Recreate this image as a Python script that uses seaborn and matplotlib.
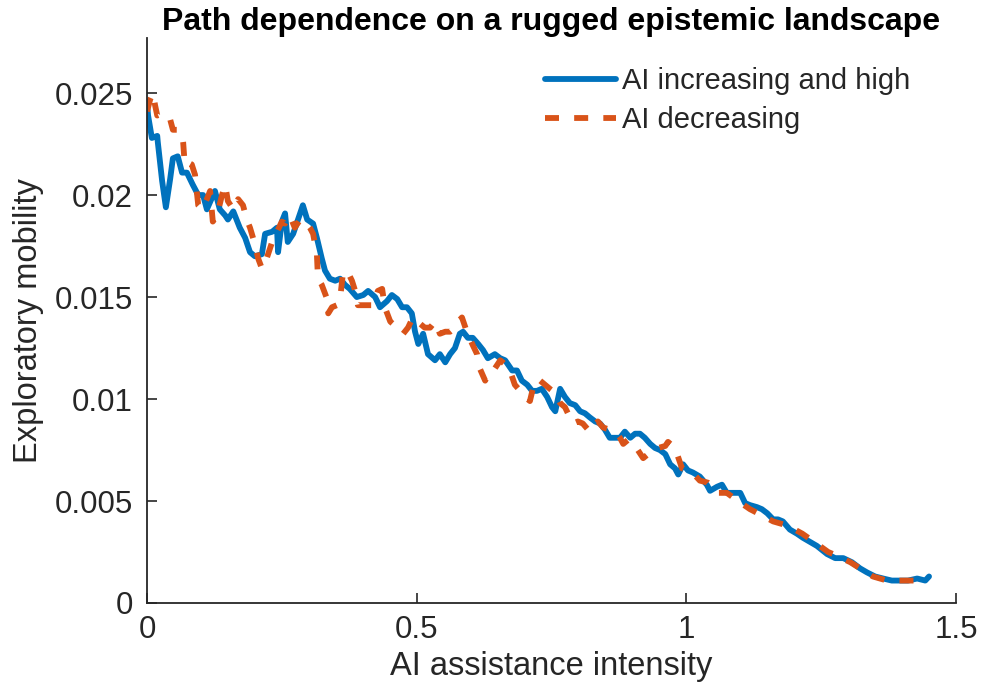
import matplotlib
matplotlib.use("Agg")
import matplotlib.pyplot as plt
import seaborn as sns
import pandas as pd

# values
inc_x = [0, .002, .009, .019, .020, .028, .035, .043, .048, .057, .065, .074, .085, .095,
         .104, .111, .126, .135, .145, .150, .160, .172, .182, .191, .200, .213, .219, .232,
         .241, .243, .250, .256, .261, .271, .280, .289, .297, .308, .315, .324, .330, .339,
         .349, .358, .367, .376, .389, .401, .410, .423, .432, .445, .454, .464, .473, .482,
         .491, .497, .503, .512, .521, .534, .543, .553, .562, .571, .580, .586, .595, .604,
         .614, .623, .632, .645, .655, .664, .677, .686, .695, .705, .714, .723, .732, .742,
         .751, .757, .766, .775, .784, .794, .803, .812, .821, .831, .840, .849, .858, .868,
         .877, .886, .896, .905, .914, .923, .933, .942, .951, .961, .970, .979, .985, .994,
         1.003, 1.012, 1.025, 1.038, 1.044, 1.057, 1.066, 1.075, 1.087, 1.100, 1.109, 1.118,
         1.131, 1.140, 1.150, 1.161, 1.170, 1.179, 1.192, 1.205, 1.216, 1.229, 1.242, 1.261,
         1.276, 1.291, 1.307, 1.322, 1.335, 1.350, 1.365, 1.381, 1.396, 1.411, 1.428, 1.443,
         1.450]
inc_y = [.0245, .0239, .0228, .0229, .0226, .0207, .0194, .0208, .0218, .0219, .0211, .0211,
         .0205, .0200, .0200, .0193, .0202, .0193, .0190, .0188, .0192, .0184, .0179, .0172,
         .0170, .0171, .0181, .0182, .0184, .0172, .0187, .0191, .0177, .0181, .0188, .0195,
         .0188, .0186, .0179, .0169, .0163, .0159, .0158, .0159, .0156, .0154, .0150, .0151,
         .0153, .0150, .0145, .0148, .0151, .0149, .0145, .0145, .0142, .0133, .0127, .0132,
         .0122, .0119, .0122, .0118, .0122, .0125, .0132, .0133, .0130, .0130, .0127, .0124,
         .0120, .0122, .0120, .0119, .0114, .0114, .0109, .0107, .0104, .0104, .0105, .0101,
         .0096, .0094, .0105, .0101, .0098, .0097, .0094, .0093, .0091, .0089, .0088, .0085,
         .0081, .0081, .0081, .0084, .0081, .0083, .0083, .0081, .0078, .0076, .0075, .0073,
         .0068, .0066, .0063, .0068, .0065, .0064, .0062, .0058, .0055, .0057, .0058, .0054,
         .0054, .0054, .0049, .0048, .0047, .0046, .0044, .0041, .0041, .0040, .0036, .0034,
         .0032, .0030, .0028, .0024, .0022, .0022, .0020, .0017, .0015, .0013, .0012, .0011,
         .0011, .0011, .0012, .0011, .0013]

dec_x = [0, .006, .011, .015, .019, .028, .037, .043, .048, .057, .065, .067, .070, .076,
         .083, .089, .095, .102, .111, .117, .122, .130, .139, .145, .150, .160, .169, .178,
         .185, .191, .200, .206, .213, .222, .232, .241, .250, .256, .265, .274, .284, .293,
         .302, .308, .315, .317, .324, .334, .336, .343, .352, .358, .363, .371, .380, .386,
         .391, .401, .410, .419, .428, .436, .441, .451, .464, .475, .484, .493, .506, .515,
         .525, .534, .543, .553, .562, .571, .577, .584, .593, .603, .612, .617, .627, .636,
         .645, .655, .664, .673, .682, .692, .701, .710, .719, .729, .738, .747, .757, .766,
         .775, .784, .790, .799, .808, .821, .831, .836, .846, .858, .868, .877, .883, .892,
         .901, .910, .920, .929, .938, .948, .961, .966, .979, .992, 1.001, 1.011, 1.025,
         1.040, 1.059, 1.075, 1.096, 1.118, 1.140, 1.161, 1.187, 1.215, 1.242, 1.263, 1.272,
         1.304, 1.322, 1.346, 1.372, 1.393, 1.420, 1.439, 1.448]
dec_y = [.0241, .0247, .0250, .0244, .0239, .0240, .0239, .0237, .0232, .0232, .0230, .0226,
         .0215, .0216, .0215, .0210, .0195, .0193, .0198, .0202, .0187, .0190, .0200, .0205,
         .0197, .0193, .0198, .0195, .0188, .0184, .0176, .0169, .0164, .0169, .0177, .0182,
         .0187, .0186, .0190, .0184, .0188, .0187, .0184, .0181, .0171, .0159, .0156, .0149,
         .0142, .0145, .0146, .0149, .0161, .0163, .0158, .0153, .0146, .0146, .0146, .0146,
         .0153, .0154, .0145, .0138, .0135, .0132, .0135, .0140, .0137, .0135, .0135, .0138,
         .0132, .0133, .0133, .0135, .0138, .0140, .0133, .0127, .0122, .0115, .0109, .0114,
         .0115, .0119, .0117, .0114, .0107, .0104, .0101, .0099, .0109, .0109, .0107, .0105,
         .0103, .0098, .0096, .0091, .0088, .0089, .0088, .0084, .0088, .0089, .0086, .0085,
         .0084, .0081, .0078, .0080, .0078, .0075, .0071, .0073, .0075, .0076, .0077, .0079,
         .0076, .0066, .0065, .0064, .0060, .0059, .0054, .0054, .0050, .0046, .0043, .0040,
         .0038, .0034, .0029, .0025, .0024, .0020, .0017, .0013, .0011, .0011, .0011, .0011,
         .0011]

x_ticks = [0, 0.5, 1, 1.5]
x_tick_labels = ["0", "0.5", "1", "1.5"]
y_ticks = [0, 0.005, 0.01, 0.015, 0.02, 0.025]
y_tick_labels = ["0", "0.005", "0.01", "0.015", "0.02", "0.025"]

sns.set_style("ticks")
plt.rcParams["font.family"] = ["Liberation Sans", "DejaVu Sans"]

BLUE = "#0072BD"
ORANGE = "#D95319"

df_inc = pd.DataFrame({"x": inc_x, "y": inc_y})
df_dec = pd.DataFrame({"x": dec_x, "y": dec_y})

fig = plt.figure(figsize=(9.82, 6.87), dpi=100)
ax = fig.add_axes([147 / 982, 84 / 687, 809 / 982, 565 / 687])

sns.lineplot(data=df_inc, x="x", y="y", sort=False, estimator=None, color=BLUE,
             linewidth=4.2, label="AI increasing and high", ax=ax)
ax.lines[-1].set_solid_joinstyle("round")
sns.lineplot(data=df_dec, x="x", y="y", sort=False, estimator=None, color=ORANGE,
             linewidth=4.2, label="AI decreasing", ax=ax)
ax.lines[-1].set_dashes((2.4, 2.6))

ax.set_xlim(0, 1.5)
ax.set_ylim(0, 0.0277)
ax.set_xticks(x_ticks)
ax.set_xticklabels(x_tick_labels)
ax.set_yticks(y_ticks)
ax.set_yticklabels(y_tick_labels)
ax.tick_params(direction="in", length=7, width=1.2, labelsize=22.5,
               labelcolor="#262626", color="#262626")
ax.tick_params(axis="x", pad=9)
ax.tick_params(axis="y", pad=10)
for s in ["left", "bottom"]:
    ax.spines[s].set_linewidth(1.3)
    ax.spines[s].set_color("#262626")
sns.despine(ax=ax)

ax.set_xlabel("AI assistance intensity", fontsize=23.5, color="#262626", labelpad=4)
ax.set_ylabel("Exploratory mobility", fontsize=23.5, color="#262626", labelpad=8)
ax.set_title("Path dependence on a rugged epistemic landscape", fontsize=23,
             fontweight="bold", color="black", pad=6)

ax.legend(loc="upper left", bbox_to_anchor=(545 / 982, 1 - 67 / 687),
          bbox_transform=fig.transFigure, frameon=False, fontsize=21,
          handlelength=2.45, handletextpad=0.2, borderpad=0, borderaxespad=0,
          labelspacing=0.38, labelcolor="#262626")

fig.savefig("out.png", dpi=100)
